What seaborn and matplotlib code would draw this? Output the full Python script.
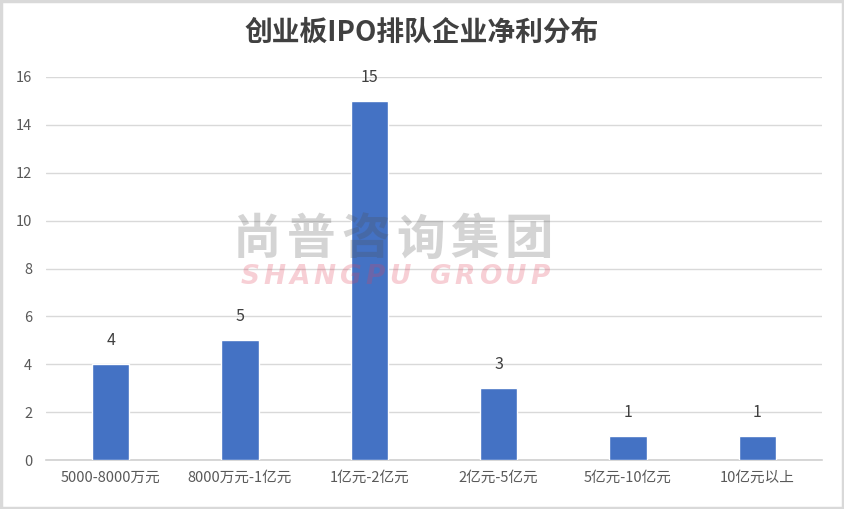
import matplotlib
matplotlib.use("Agg")
import matplotlib.pyplot as plt
import seaborn as sns
import pandas as pd
from matplotlib.patches import Rectangle

categories = ["5000-8000万元", "8000万元-1亿元", "1亿元-2亿元", "2亿元-5亿元", "5亿元-10亿元", "10亿元以上"]
values = [4, 5, 15, 3, 1, 1]
y_ticks = [0, 2, 4, 6, 8, 10, 12, 14, 16]
title = "创业板IPO排队企业净利分布"

sns.set_theme(style="white")
plt.rcParams['font.family'] = ['Noto Sans CJK SC', 'DejaVu Sans']

df = pd.DataFrame({"cat": categories, "val": values})

fig = plt.figure(figsize=(8.44, 5.09), dpi=100)
ax = fig.add_axes([46/844, 1-460/509, (822-46)/844, (460-77)/509])

sns.barplot(data=df, x="cat", y="val", color="#4472C4", saturation=1, width=0.29, ax=ax, zorder=3)

ax.set_ylim(0, 16)
ax.set_yticks(y_ticks)
ax.set_xlim(-0.5, len(categories)-0.5)
ax.yaxis.grid(True, color="#D9D9D9", linewidth=1.0, zorder=0)
ax.set_axisbelow(True)
for s in ["top", "right", "left"]:
    ax.spines[s].set_visible(False)
ax.spines["bottom"].set_color("#D0D0D0")
ax.spines["bottom"].set_linewidth(1.2)
ax.set_xlabel("")
ax.set_ylabel("")
ax.tick_params(axis="both", length=0, colors="#595959", labelsize=10.5)
ax.tick_params(axis="y", pad=10)
ax.tick_params(axis="x", pad=8)

for i, v in enumerate(values):
    ax.annotate(str(v), (i, v), xytext=(0, 11), textcoords="offset points",
                ha="center", va="bottom", fontsize=11.5, color="#404040")

fig.text(422/844, 1-33/509, title, ha="center", va="center", fontsize=20,
         fontweight="bold", color="#404040")

# watermark (decorative text, placed character by character for letter spacing)
wm_cn = "尚普咨询集团"
cn_step = 54.5
cn_x0 = 393 - cn_step*(len(wm_cn)-1)/2
for k, ch in enumerate(wm_cn):
    fig.text((cn_x0 + k*cn_step)/844, 1-240/509, ch, ha="center", va="center",
             fontsize=35, fontweight="bold", color="#4D4D4D", alpha=0.24, zorder=10)

wm_en = "SHANGPU GROUP"
step = 25.0
space_extra = 15.0
xs = []
x = 0.0
for ch in wm_en:
    if ch == " ":
        x += space_extra
        continue
    xs.append((ch, x))
    x += step
total = xs[-1][1]
x_start = 395 - total/2
for ch, off in xs:
    fig.text((x_start + off)/844, 1-277/509, ch, ha="center", va="center", fontsize=19,
             fontweight="bold", style="italic", family="DejaVu Sans",
             color="#E0405A", alpha=0.25, zorder=10)

fig.patches.append(Rectangle((0.0015, 0.0025), 0.997, 0.995, transform=fig.transFigure,
                             fill=False, edgecolor="#D9D9D9", linewidth=2.5))

fig.savefig("out.png", dpi=100)
